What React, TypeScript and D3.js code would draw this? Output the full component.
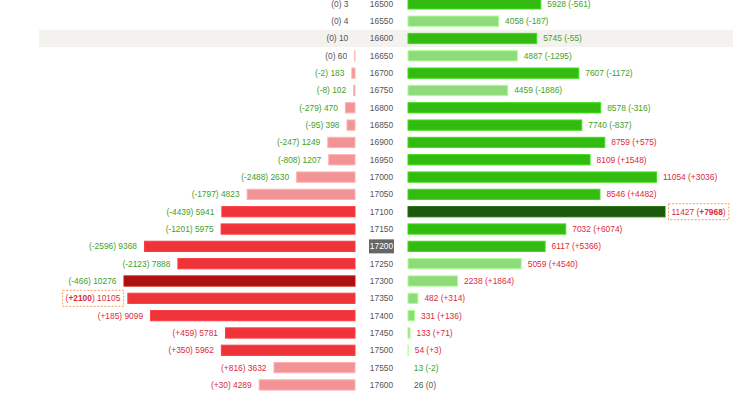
import { useEffect, useRef } from 'react';
import * as d3 from 'd3';

// strikes, top to bottom
const strikes = [
  16500, 16550, 16600, 16650, 16700, 16750, 16800, 16850, 16900, 16950, 17000, 17050,
  17100, 17150, 17200, 17250, 17300, 17350, 17400, 17450, 17500, 17550, 17600,
];

// left side (red) open interest and change
const leftOI = [
  3, 4, 10, 60, 183, 102, 470, 398, 1249, 1207, 2630, 4823,
  5941, 5975, 9368, 7888, 10276, 10105, 9099, 5781, 5962, 3632, 4289,
];
const leftChg = [
  0, 0, 0, 0, -2, -8, -279, -95, -247, -808, -2488, -1797,
  -4439, -1201, -2596, -2123, -466, 2100, 185, 459, 350, 816, 30,
];

// right side (green) open interest and change
const rightOI = [
  5928, 4058, 5745, 4887, 7607, 4459, 8578, 7740, 8759, 8109, 11054, 8546,
  11427, 7032, 6117, 5059, 2238, 482, 331, 133, 54, 13, 26,
];
const rightChg = [
  -561, -187, -55, -1295, -1172, -1886, -316, -837, 575, 1548, 3036, 4482,
  7968, 6074, 5366, 4540, 1864, 314, 136, 71, 3, -2, 0,
];

const highlightStrike = 16600;
const atmStrike = 17200;

const W = 740;
const H = 394;

const fmtChg = (c: number) => (c > 0 ? `+${c}` : `${c}`);
const chgColor = (c: number) => (c > 0 ? '#dd2a3a' : c < 0 ? '#45a01f' : '#555');

const OIChart = () => {
  const svgRef = useRef<SVGSVGElement>(null);

  useEffect(() => {
    if (!svgRef.current) return;
    const svg = d3.select(svgRef.current);
    svg.selectAll('*').remove();

    const rows = strikes.map((s, i) => ({
      strike: s,
      lv: leftOI[i],
      lc: leftChg[i],
      rv: rightOI[i],
      rc: rightChg[i],
    }));

    const y = d3.scaleBand<number>()
      .domain(strikes)
      .range([-4.8, 393.6])
      .paddingInner(0.35)
      .paddingOuter(0.175);
    const step = y.step();
    const bh = y.bandwidth();
    const cy = (s: number) => y(s)! + bh / 2;

    const xR = d3.scaleLinear().domain([0, 11427]).range([407.5, 665.5]);
    const xL = d3.scaleLinear().domain([0, 11427]).range([355.5, 97.5]);

    const lMax = d3.max(leftOI)!;
    const rMax = d3.max(rightOI)!;
    const lMaxChg = d3.max(leftChg)!;
    const rMaxChg = d3.max(rightChg)!;

    const lFill = (v: number) => (v === lMax ? '#ad1010' : v >= lMax / 2 ? '#ee3438' : '#f29495');
    const rFill = (v: number) => (v === rMax ? '#1b5a0b' : v >= rMax / 2 ? '#33bb12' : '#8fda7a');
    const edge = (c: string) => d3.color(c)!.brighter(0.5).formatHex();

    const g = svg.append('g')
      .attr('font-family', "'Liberation Sans', Arial, sans-serif")
      .attr('font-size', 8.4);

    // highlighted row background
    g.append('rect')
      .attr('x', 39)
      .attr('y', cy(highlightStrike) - step / 2)
      .attr('width', 694)
      .attr('height', step)
      .attr('fill', '#f4f2ef');

    // left bars
    g.selectAll('.lbar')
      .data(rows)
      .enter()
      .append('rect')
      .attr('x', d => xL(d.lv) + 0.5)
      .attr('y', d => y(d.strike)! + 0.5)
      .attr('width', d => Math.max(0, xL(0) - xL(d.lv) - 1))
      .attr('height', bh - 1)
      .attr('fill', d => lFill(d.lv))
      .attr('stroke', d => edge(lFill(d.lv)))
      .attr('stroke-width', 1);

    // right bars
    g.selectAll('.rbar')
      .data(rows)
      .enter()
      .append('rect')
      .attr('x', xR(0) + 0.5)
      .attr('y', d => y(d.strike)! + 0.5)
      .attr('width', d => Math.max(0, xR(d.rv) - xR(0) - 1))
      .attr('height', bh - 1)
      .attr('fill', d => rFill(d.rv))
      .attr('stroke', d => edge(rFill(d.rv)))
      .attr('stroke-width', 1);

    // strike labels
    const atmY = cy(atmStrike);
    g.append('rect')
      .attr('x', 369)
      .attr('y', atmY - 7)
      .attr('width', 25)
      .attr('height', 14)
      .attr('fill', '#666');

    g.selectAll('.strike')
      .data(rows)
      .enter()
      .append('text')
      .attr('x', 381.5)
      .attr('y', d => cy(d.strike))
      .attr('dy', '0.35em')
      .attr('text-anchor', 'middle')
      .attr('fill', d => (d.strike === atmStrike ? '#fff' : '#555'))
      .text(d => d.strike);

    const dashBox = (t: d3.Selection<SVGTextElement, unknown, null, undefined>, s: number) => {
      const bb = (t.node() as SVGTextElement).getBBox();
      g.insert('rect', 'text')
        .attr('x', bb.x - 3)
        .attr('y', cy(s) - 8)
        .attr('width', bb.width + 6)
        .attr('height', 16)
        .attr('fill', '#fff')
        .attr('stroke', '#f0a060')
        .attr('stroke-dasharray', '2,1.5');
    };

    // left labels
    rows.forEach(d => {
      const t = g.append('text')
        .attr('x', xL(d.lv) - 7)
        .attr('y', cy(d.strike))
        .attr('dy', '0.35em')
        .attr('text-anchor', 'end')
        .attr('fill', chgColor(d.lc));
      if (d.lc === lMaxChg) {
        t.append('tspan').text('(');
        t.append('tspan').attr('font-weight', 'bold').text(fmtChg(d.lc));
        t.append('tspan').text(`) ${d.lv}`);
        dashBox(t as any, d.strike);
      } else {
        t.text(`(${fmtChg(d.lc)}) ${d.lv}`);
      }
    });

    // right labels
    rows.forEach(d => {
      const t = g.append('text')
        .attr('x', xR(d.rv) + 6)
        .attr('y', cy(d.strike))
        .attr('dy', '0.35em')
        .attr('fill', chgColor(d.rc));
      if (d.rc === rMaxChg) {
        t.append('tspan').text(`${d.rv} (`);
        t.append('tspan').attr('font-weight', 'bold').text(fmtChg(d.rc));
        t.append('tspan').text(')');
        dashBox(t as any, d.strike);
      } else {
        t.text(`${d.rv} (${fmtChg(d.rc)})`);
      }
    });
  }, []);

  return (
    <svg
      ref={svgRef}
      width={W}
      height={H}
      style={{ position: 'absolute', left: 0, top: 0, background: '#fff' }}
    />
  );
};

export default function App() {
  return <OIChart />;
}
